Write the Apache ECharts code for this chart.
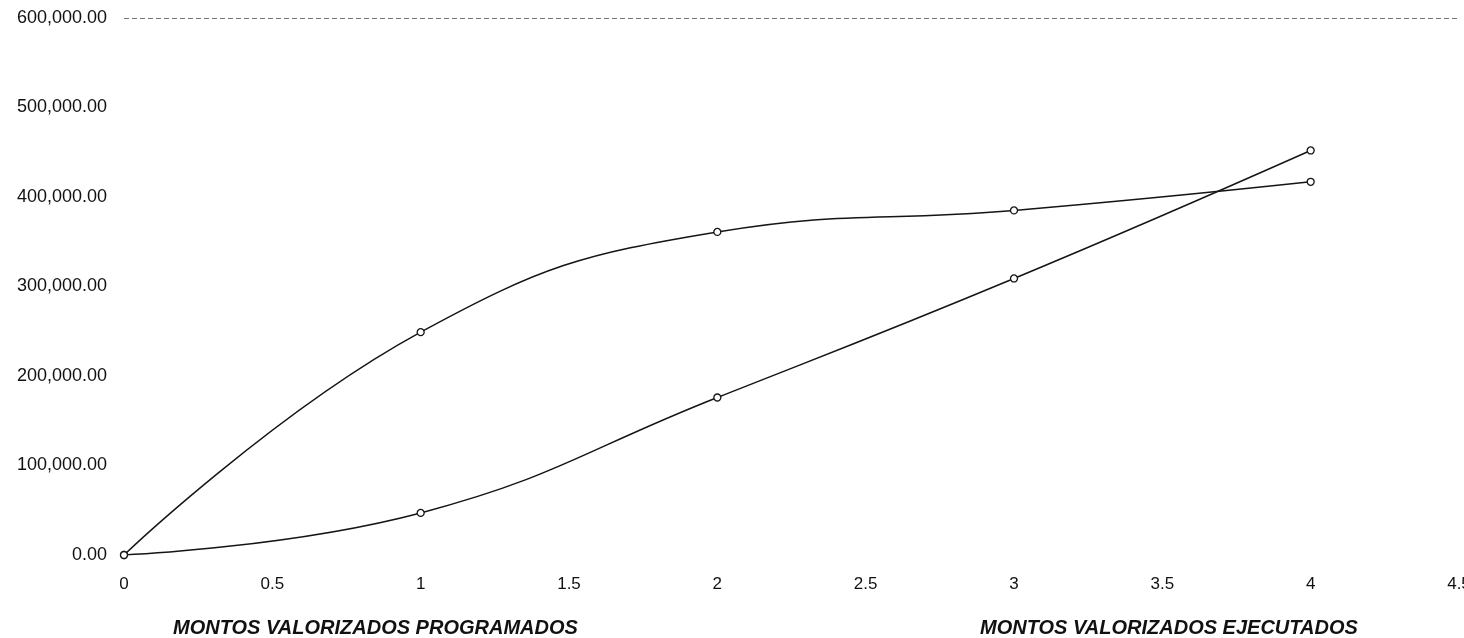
<!DOCTYPE html>
<html><head><meta charset="utf-8">
<script src="https://cdn.jsdelivr.net/npm/echarts@6/dist/echarts.min.js"></script>
<style>html,body{margin:0;padding:0;background:#fff}#c{width:1464px;height:638px}</style>
</head><body><div id="c"></div>
<script>
const xValues = [0, 1, 2, 3, 4];
const programados = [0, 249000, 361000, 385000, 417000];
const ejecutados = [0, 47000, 176000, 309000, 452000];
const seriesNames = ['MONTOS VALORIZADOS PROGRAMADOS', 'MONTOS VALORIZADOS EJECUTADOS'];
const yTop = 600000;

const chart = echarts.init(document.getElementById('c'));
const lineStyle = {color: '#151515', width: 1.5};
const itemStyle = {color: '#fff', borderColor: '#151515', borderWidth: 1.3};
const fmt = v => v.toLocaleString('en-US', {minimumFractionDigits: 2, maximumFractionDigits: 2});
const legendText = {fontFamily: 'Liberation Sans, Arial', fontSize: 20, fontWeight: 'bold', fontStyle: 'italic', color: '#111'};
chart.setOption({
  animation: false,
  backgroundColor: '#fff',
  grid: {left: 124, right: 5, top: 18, bottom: 83, containLabel: false, outerBoundsMode: 'none'},
  xAxis: {
    type: 'value', min: 0, max: 4.5, interval: 0.5,
    axisLine: {show: false}, axisTick: {show: false}, splitLine: {show: false},
    axisLabel: {color: '#111', fontFamily: 'Liberation Sans, Arial', fontSize: 17, margin: 21, showMaxLabel: true}
  },
  yAxis: {
    type: 'value', min: 0, max: yTop, interval: 100000,
    axisLine: {show: false}, axisTick: {show: false}, splitLine: {show: false},
    axisLabel: {color: '#111', fontFamily: 'Liberation Sans, Arial', fontSize: 18, margin: 17, formatter: fmt}
  },
  legend: [
    {data: [seriesNames[0]], left: 163, top: 613, icon: 'none', itemWidth: 0, itemGap: 0, textStyle: legendText},
    {data: [seriesNames[1]], left: 970, top: 613, icon: 'none', itemWidth: 0, itemGap: 0, textStyle: legendText}
  ],
  series: [
    {name: seriesNames[0], type: 'line', smooth: 0.45, data: xValues.map((x, i) => [x, programados[i]]),
     symbol: 'circle', symbolSize: 7, lineStyle, itemStyle, color: '#151515',
     markLine: {silent: true, symbol: 'none', label: {show: false},
       lineStyle: {color: '#777', type: [5, 3], width: 1}, data: [{yAxis: yTop}]}},
    {name: seriesNames[1], type: 'line', smooth: 0.45, data: xValues.map((x, i) => [x, ejecutados[i]]),
     symbol: 'circle', symbolSize: 7, lineStyle, itemStyle, color: '#151515'}
  ]
});
</script></body></html>
